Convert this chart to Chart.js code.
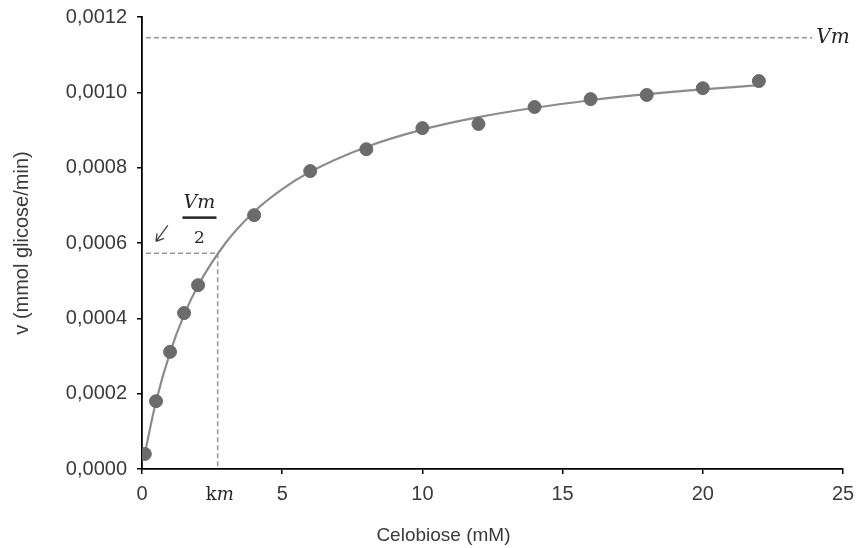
<!DOCTYPE html>
<html>
<head>
<meta charset="utf-8">
<script src="https://cdn.jsdelivr.net/npm/chart.js@4/dist/chart.umd.min.js"></script>
<style>
  html, body { margin: 0; padding: 0; background: #fff; }
  #wrap { width: 859px; height: 548px; position: relative; }
</style>
</head>
<body>
<div id="wrap"><canvas id="c"></canvas></div>
<script>
// Measured points: substrate concentration (mM) and velocity (mmol glicose/min)
const substrate = [0.1, 0.5, 1, 1.5, 2, 4, 6, 8, 10, 12, 14, 16, 18, 20, 22];
const velocity  = [0.00004, 0.00018, 0.000311, 0.000414, 0.000488, 0.000674, 0.000791, 0.000849, 0.000905, 0.000916, 0.000961, 0.000982, 0.000993, 0.001011, 0.00103];

// Fitted curve
const fitX = [0.1, 0.5, 1, 1.5, 2, 3, 4, 5, 6, 8, 10, 12, 14, 16, 18, 20, 22];
const fitV = [0.000041, 0.000179, 0.000309, 0.000409, 0.000487, 0.000602, 0.000683, 0.000743, 0.000789, 0.000855, 0.000901, 0.000934, 0.000959, 0.000979, 0.000995, 0.001008, 0.001019];

// Reference levels
const Vm = 0.001145;
const Km = 2.7;

// Axis ticks and titles
const xTicks = { min: 0, max: 25, step: 5 };
const yTicks = { min: 0, max: 0.0012, step: 0.0002 };
const xTitle = 'Celobiose (mM)';
const yTitle = 'v (mmol glicose/min)';

const TEXT = '#3a3a3a';
const SANS = '"Liberation Sans", Arial, sans-serif';
const SERIF = '"DejaVu Serif", "Liberation Serif", serif';

const annot = {
  id: 'annot',
  beforeDatasetsDraw(chart) {
    const {ctx, scales: {x, y}} = chart;
    ctx.save();
    ctx.strokeStyle = '#959595';
    ctx.lineWidth = 1.5;
    ctx.setLineDash([5, 3]);
    const yVm = y.getPixelForValue(Vm);
    const yVm2 = y.getPixelForValue(Vm / 2);
    const xKm = x.getPixelForValue(Km);
    const x0 = x.getPixelForValue(0) + 4;
    ctx.beginPath();
    ctx.moveTo(x0, yVm); ctx.lineTo(x.getPixelForValue(23.9), yVm);
    ctx.moveTo(x0, yVm2); ctx.lineTo(xKm, yVm2);
    ctx.moveTo(xKm, yVm2); ctx.lineTo(xKm, y.getPixelForValue(0));
    ctx.stroke();
    ctx.restore();
  },
  afterDraw(chart) {
    const {ctx, scales: {x, y}} = chart;
    ctx.save();
    const yVm = y.getPixelForValue(Vm);
    const yVm2 = y.getPixelForValue(Vm / 2);
    const xKm = x.getPixelForValue(Km);
    // x-axis title (placed left of centre, as in the original)
    ctx.fillStyle = TEXT;
    ctx.font = '19px ' + SANS;
    ctx.textAlign = 'center';
    ctx.textBaseline = 'middle';
    ctx.fillText(xTitle, x.getPixelForValue(10.75), 536);
    ctx.fillStyle = '#262626';
    // Vm label at right
    ctx.font = 'italic 20px ' + SERIF;
    ctx.textAlign = 'left';
    ctx.fillText('Vm', x.getPixelForValue(24.05), yVm);
    // Vm/2 fraction
    const fx = x.getPixelForValue(2.05);
    ctx.textAlign = 'center';
    ctx.font = 'italic 19px ' + SERIF;
    ctx.fillText('Vm', fx, yVm2 - 50);
    ctx.fillRect(fx - 17, yVm2 - 37, 34, 2.5);
    ctx.font = '17px ' + SERIF;
    ctx.fillText('2', fx, yVm2 - 15);
    // arrow
    ctx.strokeStyle = '#404040';
    ctx.lineWidth = 1.3;
    const ax0 = x.getPixelForValue(0.92), ay0 = yVm2 - 28;
    const ax1 = x.getPixelForValue(0.5), ay1 = yVm2 - 12;
    ctx.beginPath();
    ctx.moveTo(ax0, ay0); ctx.lineTo(ax1, ay1);
    ctx.moveTo(ax1, ay1); ctx.lineTo(ax1 + 1, ay1 - 8);
    ctx.moveTo(ax1, ay1); ctx.lineTo(ax1 + 8, ay1 - 3);
    ctx.stroke();
    // km label under axis
    const ky = y.getPixelForValue(0) + 26;
    ctx.textAlign = 'left';
    ctx.font = '18px ' + SERIF;
    const kw = ctx.measureText('k').width;
    ctx.font = 'italic 18px ' + SERIF;
    const mw = ctx.measureText('m').width;
    const start = xKm + 2 - (kw + mw) / 2;
    ctx.font = '18px ' + SERIF;
    ctx.fillText('k', start, ky);
    ctx.font = 'italic 18px ' + SERIF;
    ctx.fillText('m', start + kw, ky);
    ctx.restore();
  }
};

new Chart(document.getElementById('c'), {
  type: 'scatter',
  data: {
    datasets: [
      {
        label: 'ajuste',
        data: fitX.map((s, i) => ({x: s, y: fitV[i]})),
        showLine: true,
        borderColor: '#8c8c8c',
        borderWidth: 2.2,
        pointRadius: 0,
        cubicInterpolationMode: 'monotone',
        order: 2
      },
      {
        label: 'v',
        data: substrate.map((s, i) => ({x: s, y: velocity[i]})),
        showLine: false,
        backgroundColor: '#6b6b6b',
        borderColor: '#6b6b6b',
        pointRadius: 6.5,
        pointHoverRadius: 6.5,
        order: 1
      }
    ]
  },
  options: {
    responsive: true,
    maintainAspectRatio: false,
    animation: false,
    events: [],
    layout: { padding: { top: 17, right: 16, left: 0, bottom: 0 } },
    plugins: { legend: { display: false }, tooltip: { enabled: false } },
    scales: {
      x: {
        type: 'linear',
        min: xTicks.min, max: xTicks.max,
        grid: { display: true, drawOnChartArea: false, drawTicks: true, tickLength: 5, color: '#000', lineWidth: 1.5 },
        border: { display: true, color: '#000', width: 1.8 },
        ticks: { stepSize: xTicks.step, color: TEXT, font: { family: SANS, size: 20 }, padding: 8 },
        title: { display: false, text: xTitle },
        afterFit(s) { s.height = 79; s.paddingLeft = 0; s.paddingRight = 0; }
      },
      y: {
        type: 'linear',
        min: yTicks.min, max: yTicks.max,
        grid: { display: true, drawOnChartArea: false, drawTicks: true, tickLength: 5, color: '#000', lineWidth: 1.5 },
        border: { display: true, color: '#000', width: 1.8 },
        ticks: {
          stepSize: yTicks.step, color: TEXT, font: { family: SANS, size: 20 }, padding: 10,
          callback: v => v.toFixed(4).replace('.', ',')
        },
        title: { display: true, text: yTitle, color: TEXT, font: { family: SANS, size: 20 }, padding: { top: 10, bottom: 0 } },
        afterFit(s) { s.width = 142; s.paddingTop = 0; s.paddingBottom = 0; }
      }
    }
  },
  plugins: [annot]
});
</script>
</body>
</html>
